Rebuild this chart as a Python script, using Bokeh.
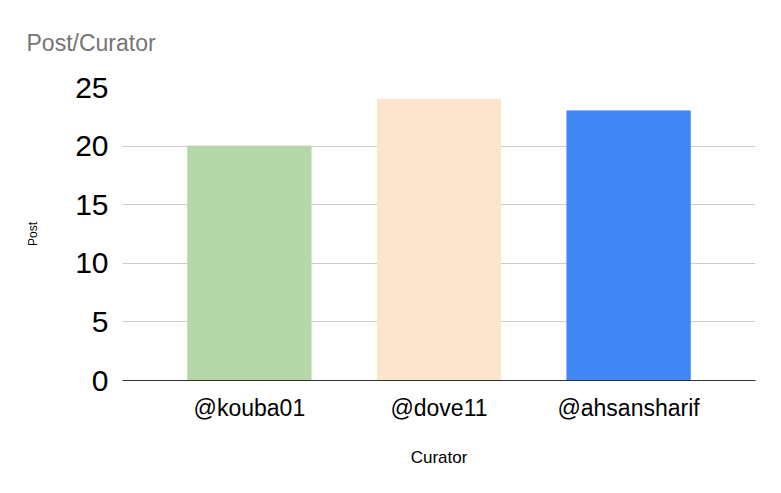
from bokeh.plotting import figure
from bokeh.models import FactorRange, Range1d, ColumnDataSource, FixedTicker
from bokeh.embed import file_html
from bokeh.resources import INLINE

curators = ["@kouba01", "@dove11", "@ahsansharif"]
posts = [20, 24, 23]
colors = ["#b6d7a8", "#fce5cd", "#4285f4"]
y_ticks = [0, 5, 10, 15, 20, 25]
chart_title = "Post/Curator"

FONT = "Liberation Sans"

src = ColumnDataSource(dict(curator=curators, post=posts, color=colors))

p = figure(
    width=781, height=493,
    x_range=FactorRange(*curators, range_padding=0.113),
    y_range=Range1d(0, 25),
    output_backend="svg", toolbar_location=None,
    min_border_left=122, min_border_right=26,
    min_border_top=86, min_border_bottom=113,
    title=chart_title,
)

p.vbar(x="curator", top="post", width=0.65, color="color", source=src)

p.title.text_font = FONT
p.title.text_font_size = "23px"
p.title.text_font_style = "normal"
p.title.text_color = "#757575"
p.title.align = "left"
p.title.vertical_align = "top"
p.title.offset = -96
p.title.standoff = 59

p.outline_line_color = None
p.xgrid.grid_line_color = None
p.ygrid.grid_line_color = "#cccccc"
p.ygrid.grid_line_width = 1

p.yaxis.ticker = FixedTicker(ticks=y_ticks)
p.yaxis.axis_line_color = None
p.yaxis.major_tick_line_color = None
p.yaxis.minor_tick_line_color = None
p.yaxis.major_tick_out = 0
p.yaxis.major_tick_in = 0
p.yaxis.major_label_standoff = 14
p.yaxis.major_label_text_font = FONT
p.yaxis.major_label_text_font_size = "30px"
p.yaxis.major_label_text_color = "#000000"
p.yaxis.axis_label = "Post"
p.yaxis.axis_label_text_font = FONT
p.yaxis.axis_label_text_font_size = "12px"
p.yaxis.axis_label_text_font_style = "normal"
p.yaxis.axis_label_text_color = "#000000"
p.yaxis.axis_label_standoff = 32

p.xaxis.axis_line_color = "#333333"
p.xaxis.axis_line_width = 1
p.xaxis.major_tick_line_color = None
p.xaxis.minor_tick_line_color = None
p.xaxis.major_tick_out = 0
p.xaxis.major_tick_in = 0
p.xaxis.major_label_standoff = 14
p.xaxis.major_label_text_font = FONT
p.xaxis.major_label_text_font_size = "23px"
p.xaxis.major_label_text_color = "#000000"
p.xaxis.axis_label = "Curator"
p.xaxis.axis_label_text_font = FONT
p.xaxis.axis_label_text_font_size = "17px"
p.xaxis.axis_label_text_font_style = "normal"
p.xaxis.axis_label_text_color = "#000000"
p.xaxis.axis_label_standoff = 24

open("out.html", "w").write(file_html(p, INLINE))
